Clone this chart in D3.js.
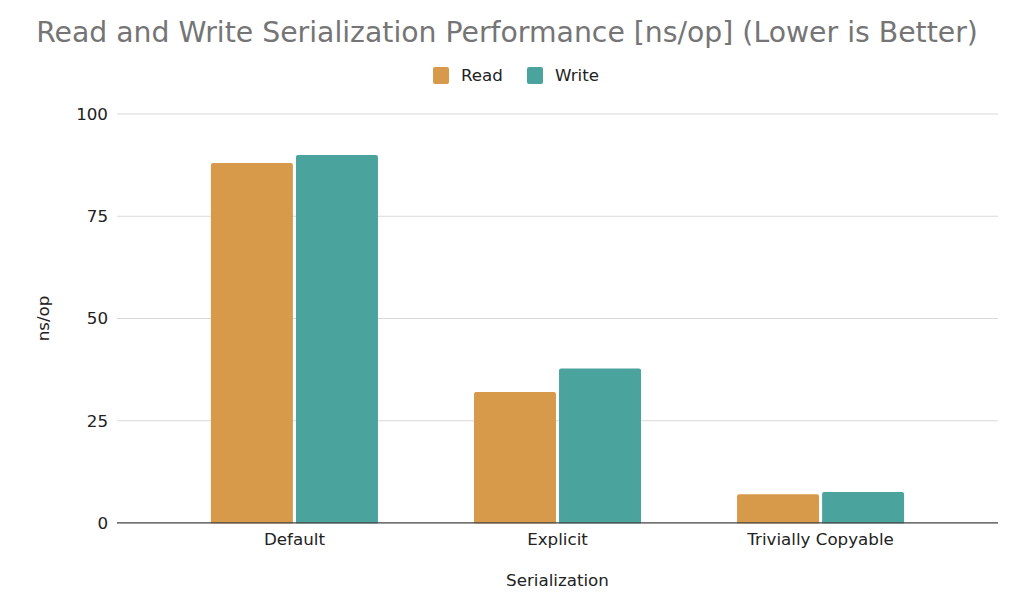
<!DOCTYPE html>
<html>
<head>
<meta charset="utf-8">
<script src="https://cdn.jsdelivr.net/npm/d3@7"></script>
<style>
  body { margin: 0; background: #fff; }
  text { font-family: "DejaVu Sans", sans-serif; }
</style>
</head>
<body>
<script>
// values
var categories = ['Default', 'Explicit', 'Trivially Copyable'];
var seriesNames = ['Read', 'Write'];
var readValues = [88, 32, 7];
var writeValues = [90, 37.8, 7.6];
var yTicks = [0, 25, 50, 75, 100];
var colors = {'Read': '#d79a4a', 'Write': '#4aa39d'};

var width = 1024, height = 612;
var margin = {top: 114, right: 26, bottom: 89, left: 117};
var labelSize = '16.7px';

var svg = d3.select('body').append('svg')
  .attr('width', width)
  .attr('height', height);

var rows = categories.map(function(c, i) {
  return {cat: c, Read: readValues[i], Write: writeValues[i]};
});

var x0 = d3.scaleBand()
  .domain(categories)
  .range([margin.left, width - margin.right])
  .paddingInner(0.365)
  .paddingOuter(0.357);

var x1 = d3.scaleBand()
  .domain(seriesNames)
  .range([0, x0.bandwidth()])
  .paddingInner(0.036);

var y = d3.scaleLinear()
  .domain([0, 100])
  .range([height - margin.bottom, margin.top]);

// gridlines + y labels
var yAxis = svg.append('g')
  .attr('transform', 'translate(' + margin.left + ',0)')
  .call(d3.axisLeft(y).tickValues(yTicks).tickSize(0).tickPadding(9));
yAxis.select('.domain').remove();
yAxis.selectAll('text')
  .attr('fill', '#222')
  .style('font-size', labelSize);

svg.append('g')
  .selectAll('line')
  .data(yTicks.filter(function(t) { return t > 0; }))
  .enter()
  .append('line')
  .attr('x1', margin.left)
  .attr('x2', width - margin.right)
  .attr('y1', function(d) { return y(d); })
  .attr('y2', function(d) { return y(d); })
  .attr('stroke', '#d9d9d9')
  .attr('stroke-width', 1);

// bars
svg.append('g')
  .selectAll('g')
  .data(rows)
  .enter()
  .append('g')
  .attr('transform', function(d) { return 'translate(' + x0(d.cat) + ',0)'; })
  .selectAll('rect')
  .data(function(d) { return seriesNames.map(function(s) { return {key: s, value: d[s]}; }); })
  .enter()
  .append('rect')
  .attr('x', function(d) { return x1(d.key); })
  .attr('y', function(d) { return y(d.value); })
  .attr('width', x1.bandwidth())
  .attr('height', function(d) { return y(0) - y(d.value) + 2; })
  .attr('rx', 2)
  .attr('fill', function(d) { return colors[d.key]; });

// baseline
svg.append('line')
  .attr('x1', margin.left)
  .attr('x2', width - margin.right)
  .attr('y1', y(0))
  .attr('y2', y(0))
  .attr('stroke', '#444')
  .attr('stroke-width', 1.3);

// cover the bar overshoot below baseline
svg.append('rect')
  .attr('x', margin.left)
  .attr('y', y(0) + 0.7)
  .attr('width', width - margin.left - margin.right)
  .attr('height', 3)
  .attr('fill', '#fff');

// x labels
var xAxis = svg.append('g')
  .attr('transform', 'translate(0,' + y(0) + ')')
  .call(d3.axisBottom(x0).tickSize(0).tickPadding(10));
xAxis.select('.domain').remove();
xAxis.selectAll('text')
  .attr('fill', '#222')
  .style('font-size', labelSize);

// titles
svg.append('text')
  .attr('x', 507)
  .attr('y', 42)
  .attr('text-anchor', 'middle')
  .attr('fill', '#757575')
  .style('font-size', '28.3px')
  .text('Read and Write Serialization Performance [ns/op] (Lower is Better)');

svg.append('text')
  .attr('x', (margin.left + width - margin.right) / 2)
  .attr('y', 586)
  .attr('text-anchor', 'middle')
  .attr('fill', '#222')
  .style('font-size', labelSize)
  .text('Serialization');

svg.append('text')
  .attr('transform', 'translate(49,' + y(50) + ') rotate(-90)')
  .attr('text-anchor', 'middle')
  .attr('fill', '#222')
  .style('font-size', labelSize)
  .text('ns/op');

// legend
var legendX = [433, 527];
var legend = svg.append('g')
  .selectAll('g')
  .data(seriesNames)
  .enter()
  .append('g')
  .attr('transform', function(d, i) { return 'translate(' + legendX[i] + ',67)'; });
legend.append('rect')
  .attr('width', 16)
  .attr('height', 17)
  .attr('rx', 2)
  .attr('fill', function(d) { return colors[d]; });
legend.append('text')
  .attr('x', 28)
  .attr('y', 14)
  .attr('fill', '#222')
  .style('font-size', labelSize)
  .text(function(d) { return d; });
</script>
</body>
</html>
